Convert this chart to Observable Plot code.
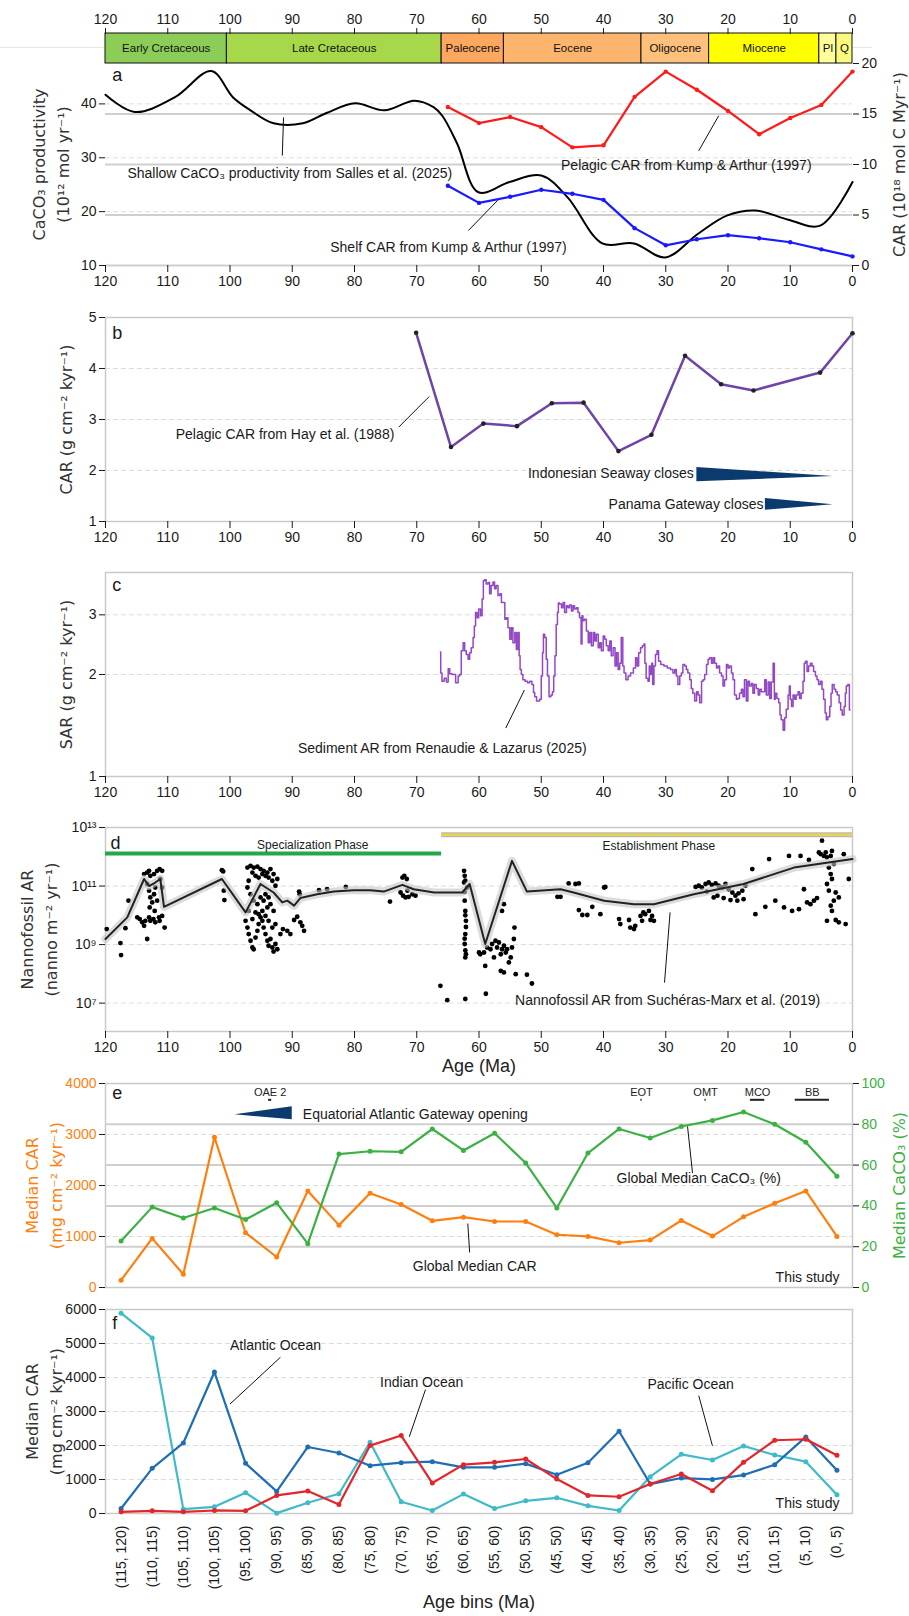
<!DOCTYPE html>
<html><head><meta charset="utf-8">
<script src="https://cdn.jsdelivr.net/npm/d3@7"></script>
<script src="https://cdn.jsdelivr.net/npm/@observablehq/plot@0.6"></script>
<style>
body{margin:0;background:#fff;}
#root{position:relative;width:909px;height:1616px;overflow:hidden;background:#fff;}
#root svg{position:absolute;left:0;overflow:visible;}
#hair{position:absolute;left:0;top:47px;width:872px;height:1px;background:#e6e6e6;}
</style></head>
<body><div id="root"><div id="hair"></div></div>
<script>
// ---------------- DATA ----------------
const ageTicks = [120,110,100,90,80,70,60,50,40,30,20,10,0];
const epochNames = ["Early Cretaceous","Late Cretaceous","Paleocene","Eocene","Oligocene","Miocene","Pl","Q"];
const epochStart = [120,100.5,66,56,33.9,23.03,5.33,2.58];
const epochEnd   = [100.5,66,56,33.9,23.03,5.33,2.58,0];
const epochColors = ["#8CCD57","#A6D84A","#FDA75F","#FDB46C","#FEC07A","#FFFF00","#FFFF99","#F9F97F"];

// panel a
const sallesAge = [120,115.3,108.9,103,99.5,96.7,93,88.3,84.5,79.9,75.2,70.4,67.3,65.9,63.5,60.1,55.1,50,45.8,40.2,35.1,30.1,24.8,20.1,15.5,10.3,5.2,0];
const sallesVal = [41.7,38.5,41.2,46.1,41.2,38.8,36.4,36.4,38.3,40.1,38.8,40.6,39.4,37.8,32.6,23.6,25.5,26.7,22.7,14.1,14.1,11.5,15.9,19.3,20.2,18.5,17.4,25.5];
const kumpAge = [65,60,55,50,45,40,35,30,25,20,15,10,5,0];
const pelagicKump = [15.7,14.1,14.7,13.7,11.7,11.9,16.7,19.2,17.4,15.3,13.0,14.6,15.9,19.2];
const shelfKump   = [7.9,6.2,6.8,7.5,7.1,6.5,3.7,2.0,2.6,3.0,2.7,2.3,1.6,0.9];

// panel b
const hayAge = [70.1,64.5,59.3,53.9,48.3,43.2,37.6,32.3,26.9,21.1,15.9,5.2,0];
const hayCAR = [4.70,2.46,2.92,2.87,3.32,3.33,2.38,2.70,4.25,3.69,3.57,3.92,4.69];

// panel c  [age, SAR]
const sarPts = [[66.2,2.33],[66.1,2.02],[65.8,1.91],[65.4,1.95],[65.1,1.90],[64.8,2.08],[64.6,2.01],[64.0,2.00],[63.5,1.89],[63.2,1.98],[63.0,2.00],[62.7,2.35],[62.4,2.48],[62.2,2.35],[61.9,2.29],[61.6,2.22],[61.4,2.32],[61.1,2.40],[60.8,2.57],[60.7,2.78],[60.4,3.05],[60.2,2.94],[59.9,3.12],[59.6,2.98],[59.4,3.34],[59.2,3.78],[59.0,3.81],[58.7,3.70],[58.4,3.74],[58.2,3.46],[57.9,3.66],[57.6,3.75],[57.4,3.58],[57.1,3.66],[56.8,3.42],[56.5,3.46],[56.3,3.26],[56.0,3.26],[55.7,2.91],[55.5,2.94],[55.2,2.75],[54.9,2.54],[54.7,2.75],[54.4,2.48],[54.1,2.66],[53.9,2.37],[53.6,2.66],[53.5,2.27],[53.3,2.07],[53.1,2.00],[52.8,1.93],[52.4,1.91],[52.0,1.89],[51.7,1.91],[51.3,1.87],[51.2,1.77],[50.9,1.72],[50.6,1.67],[50.4,1.67],[50.1,1.69],[49.9,1.98],[49.7,2.32],[49.6,2.63],[49.3,2.57],[49.1,2.22],[48.9,1.98],[48.6,1.72],[48.3,1.74],[48.1,1.78],[47.9,1.98],[47.7,2.27],[47.5,2.81],[47.3,3.05],[47.2,3.25],[46.9,3.23],[46.6,3.15],[46.4,3.26],[46.1,3.05],[45.8,3.19],[45.6,3.15],[45.3,3.21],[45.0,3.08],[44.8,3.19],[44.5,3.12],[44.2,3.15],[44.0,3.05],[43.7,2.94],[43.5,2.46],[43.4,2.98],[43.2,2.88],[42.9,2.91],[42.6,2.69],[42.3,2.48],[42.1,2.66],[41.8,2.43],[41.5,2.66],[41.3,2.51],[41.0,2.63],[40.7,2.40],[40.5,2.48],[40.2,2.35],[39.9,2.60],[39.7,2.54],[39.4,2.43],[39.1,2.35],[38.9,2.51],[38.6,2.27],[38.3,2.40],[38.0,2.12],[37.8,2.32],[37.5,2.07],[37.3,2.16],[37.0,2.57],[36.8,2.12],[36.6,2.02],[36.2,1.93],[35.9,1.98],
[35.4,2.02],[35.0,2.09],[34.7,2.24],[34.5,2.12],[34.2,2.32],[33.9,2.40],[33.6,2.43],[33.4,2.46],[33.3,2.16],[33.0,1.95],[32.7,1.91],[32.6,2.12],[32.3,2.00],[32.2,2.16],[32.0,1.87],[31.8,2.12],[31.5,2.29],[31.3,2.35],[31.0,2.19],[30.6,2.14],[30.0,2.12],[29.5,2.09],[29.0,2.07],[28.7,2.02],[28.4,2.07],[28.2,1.98],[27.9,1.87],[27.6,1.98],[27.4,2.02],[27.1,2.14],[26.8,2.12],[26.6,2.07],[26.3,2.02],[26.0,1.93],[25.8,1.82],[25.5,1.76],[25.2,1.67],[24.9,1.78],[24.7,1.74],[24.4,1.65],[24.1,1.91],[23.9,1.93],[23.6,2.00],[23.3,2.14],[23.1,2.22],[22.8,2.24],[22.5,2.16],[22.3,2.24],[22.0,2.16],[21.7,2.09],[21.5,2.12],[21.2,2.02],[20.9,1.98],[20.7,1.85],[20.4,1.93],[20.1,2.14],[19.9,2.09],[19.6,2.12],[19.3,2.02],[19.1,1.93],[18.8,1.74],[18.5,1.69],[18.3,1.70],[18.0,1.76],[17.7,1.81],[17.5,1.72],[17.2,1.93],[16.9,1.67],[16.7,1.91],[16.4,1.85],[16.1,1.88],[15.9,1.76],[15.6,1.87],[15.3,1.82],[15.0,1.74],[14.8,1.81],[14.5,1.78],[14.2,1.78],[14.0,1.93],[13.7,1.74],[13.4,1.90],[13.2,1.70],[12.9,1.90],[12.6,2.16],[12.5,1.69],[12.3,1.76],[12.0,1.70],[11.7,1.65],[11.6,1.52],[11.3,1.47],[11.0,1.37],[10.8,1.49],[10.5,1.58],[10.2,1.74],[10.1,1.85],[9.9,1.69],[9.7,1.61],[9.4,1.74],[9.2,1.69],[8.9,1.74],[8.6,1.78],[8.4,1.70],[8.1,1.76],[7.8,1.91],[7.7,2.16],[7.4,2.19],[7.2,2.04],[6.9,2.12],[6.6,2.16],[6.4,2.12],[6.1,2.04],[5.8,1.98],[5.6,1.93],[5.3,1.87],[5.0,1.91],[4.8,1.81],[4.5,1.69],[4.3,1.54],[4.1,1.47],[3.8,1.50],[3.5,1.61],[3.4,1.76],[3.1,1.87],[2.8,1.81],[2.6,1.78],[2.3,1.74],[2.0,1.65],[1.8,1.57],[1.5,1.52],[1.2,1.61],[1.1,1.76],[0.9,1.85],[0.6,1.87],[0.4,1.57]];

// panel d  [age, log10 AR]
const nannoPts = [[119.8,9.53],[117.6,9.05],[117.5,8.64],[116.8,9.56],[116.3,10.50],
[113.8,11.41],[113.3,11.46],[113.0,11.52],[112.8,11.35],[112.2,11.41],[111.7,11.52],[111.3,11.58],[110.9,11.52],
[113.3,11.07],[113.0,10.84],[112.8,10.61],[112.5,10.44],[112.2,10.72],[112.0,10.95],[112.9,10.27],[112.1,10.15],[111.7,10.50],[111.2,11.24],[110.9,10.95],
[114.9,9.93],[114.5,9.87],[114.1,9.76],[113.8,9.64],[113.6,9.81],[113.0,9.93],[112.8,9.81],[112.3,9.87],[112.0,9.76],[111.4,9.93],[110.9,9.98],[110.5,9.58],[111.3,9.81],[113.3,9.19],
[101.3,11.54],[101.1,11.50],[101.0,10.84],[100.9,10.52],
[97.2,11.63],[96.7,11.69],[96.2,11.63],[95.6,11.66],[95.1,11.58],[94.6,11.52],[94.0,11.46],[93.5,11.58],[93.0,11.41],[92.4,11.24],
[97.0,11.18],[96.4,11.46],[95.9,11.35],[95.4,11.29],[94.8,11.41],[94.3,11.35],[93.8,11.29],[93.2,11.18],[92.7,11.01],
[97.2,10.95],[96.7,10.72],[96.2,10.50],[95.6,10.38],[95.1,10.61],[94.6,10.50],[94.0,10.27],[93.5,10.38],[93.0,10.15],[94.3,10.72],[93.8,10.61],
[97.5,9.81],[97.2,9.58],[97.0,9.36],[96.7,9.13],[96.4,8.90],[96.2,8.84],[95.9,9.24],[95.6,9.47],[95.4,9.70],[95.1,9.93],[94.8,9.81],[94.6,9.58],[94.3,9.36],[94.0,9.13],[93.8,8.96],[93.5,9.19],[93.2,8.90],[93.0,8.76],[92.7,9.02],[92.4,8.84],[91.9,9.36],[91.5,9.53],[90.8,9.47],[90.3,9.36],
[95.9,10.10],[95.4,10.04],[94.8,10.15],[94.3,9.98],[93.8,9.81],[93.2,9.58],[92.7,9.70],[96.4,9.87],[97.0,10.15],
[89.7,9.84],[89.2,9.95],[88.7,9.76],[88.4,9.64],[88.1,9.47],[88.9,10.81],[88.8,10.72],
[85.7,10.86],[84.4,10.89],[81.4,10.97],[74.3,10.47],
[72.3,11.29],[72.0,11.35],[71.6,11.24],[72.6,10.78],[72.2,10.67],[71.8,10.61],[71.3,10.63],[70.7,10.72],[70.2,10.67],[71.5,10.84],
[62.4,11.52],[62.3,11.35],[62.2,11.18],[62.4,11.12],[62.3,10.80],[62.3,10.50],[62.2,10.15],[62.2,10.00],[62.1,9.81],[62.1,9.60],[62.2,9.36],[62.3,9.20],[62.3,9.02],[62.2,8.80],[62.1,8.67],[62.2,8.56],
[66.2,7.59],[65.1,7.10],[62.2,7.14],[60.0,8.73],
[61.9,10.95],[58.9,7.32],
[59.8,8.67],[59.2,8.73],[59.0,8.27],[58.7,8.90],[58.15,8.84],[57.9,9.02],[57.6,8.56],[57.35,9.13],[57.1,8.90],[56.8,9.07],[56.5,8.67],[56.3,8.84],[56.0,8.96],[55.7,8.73],[55.5,8.84],[55.2,8.39],[54.9,8.56],[54.7,8.90],[54.4,9.19],[54.3,9.58],[56.5,8.10],[56.0,8.05],[54.1,7.99],[52.3,7.97],[51.5,7.67],[56.3,10.15],[56.0,10.38],
[47.4,10.63],[46.9,10.63],[45.6,11.09],[44.5,11.07],[43.96,11.09],[39.9,10.95],[39.7,10.97],
[43.96,10.18],[43.4,10.01],[42.6,10.01],[41.8,10.29],[40.5,10.04],
[37.5,9.87],[37.3,9.70],[35.9,9.84],[35.7,9.58],[35.1,9.53],[34.9,9.64],[34.05,9.98],[33.6,10.10],[33.3,10.04],[32.7,10.15],[32.2,9.98],[31.9,9.81],[32.45,9.84],[33.8,9.81],
[25.2,10.97],[24.7,11.01],[24.2,10.95],[23.6,11.07],[23.1,11.12],[22.6,11.04],[22.0,11.09],[21.5,11.01],[20.9,10.95],[20.4,11.07],[19.9,10.89],[19.3,10.78],[18.8,10.67],[18.3,10.75],[17.7,10.84],[17.2,11.01],[23.4,10.81],[21.7,10.67],[20.7,10.59],[19.6,10.52],[18.5,10.50],[17.5,10.55],[22.3,10.61],
[16.1,11.58],[15.6,10.04],[14.0,10.29],[13.4,11.92],[12.4,10.50],[10.2,12.03],[11.0,10.27],[9.7,10.15],[8.6,10.21],[8.35,12.03],[7.8,10.89],[7.3,10.44],[7.0,11.89],[6.75,10.38],[6.2,10.50],[5.7,10.59],[5.4,12.15],[5.1,12.09],[4.9,12.55],[4.6,12.03],[4.3,12.15],[4.1,11.98],[3.5,12.03],[3.3,12.20],[3.0,11.75],[3.8,11.63],[3.5,11.41],[3.3,11.24],[4.1,11.07],[3.8,10.84],[2.7,10.78],[3.0,10.50],[3.5,10.33],[3.3,10.15],[4.1,9.81],[2.7,9.84],[2.2,9.76],[1.1,9.70],[1.4,12.09],[0.6,11.24],[2.2,10.61]];
const nannoTrendAge = [120,116.5,113.8,113.0,112.0,111.2,110.6,101.3,97.5,95.1,93.0,91.6,90.8,89.7,88.7,86.0,83.3,80.1,77.5,75.3,72.3,70.5,67.2,62.7,61.5,59.0,54.7,52.3,46.9,44.8,39.9,35.1,31.9,25.5,17.5,9.4,0];
const nannoTrendExp = [9.19,9.93,11.24,11.00,11.12,11.24,10.29,11.24,10.10,11.07,10.78,10.44,10.50,10.33,10.59,10.72,10.81,10.86,10.86,10.81,11.04,10.89,10.78,10.78,11.07,9.02,11.86,10.81,10.89,10.78,10.50,10.38,10.38,10.72,11.07,11.63,11.92];

// panels e & f
const ageBins = ["(115, 120)","(110, 115)","(105, 110)","(100, 105)","(95, 100)","(90, 95)","(85, 90)","(80, 85)","(75, 80)","(70, 75)","(65, 70)","(60, 65)","(55, 60)","(50, 55)","(45, 50)","(40, 45)","(35, 40)","(30, 35)","(25, 30)","(20, 25)","(15, 20)","(10, 15)","(5, 10)","(0, 5)"];
const medianCAR   = [143,963,260,2946,1073,598,1893,1223,1847,1626,1307,1379,1294,1294,1034,1002,878,930,1314,1008,1385,1652,1893,1002];
const medianCaCO3 = [22.8,39.4,34.1,39.0,33.3,41.5,21.5,65.4,66.8,66.5,77.7,67.2,75.6,61.0,39.0,65.9,77.7,73.3,78.9,81.9,86.0,80.0,71.2,54.5];
const atlanticCAR = [148,1328,2075,4161,1475,649,1957,1780,1407,1495,1525,1357,1357,1466,1141,1495,2420,866,1043,1003,1131,1436,2252,1269];
const indianCAR   = [49,79,49,89,79,531,659,266,1997,2292,895,1436,1505,1603,1013,531,492,866,1161,669,1505,2154,2184,1711];
const pacificCAR  = [5892,5164,128,197,610,10,315,580,2095,344,89,570,148,374,462,226,89,1082,1741,1574,1987,1721,1525,551];
const eventNames = ["OAE 2","EOT","OMT","MCO","BB"];
const eventStart = [93.8,34.0,23.7,16.4,9.2];
const eventEnd   = [93.3,33.8,23.5,14.1,3.7];

// ---------------- HELPERS ----------------
const W = 909, ML = 105, MR = 57;
const FONT = "'Liberation Sans', Arial, Helvetica, sans-serif";
const TFONT = "'DejaVu Sans', Verdana, sans-serif";
const root = document.getElementById("root");
const style = {fontFamily: FONT, fontSize: "14px", color: "#1a1a1a", background: "transparent", overflow: "visible"};
function mk(opts){ return Plot.plot(Object.assign({width: W, marginLeft: ML, marginRight: MR, style}, opts)); }
function add(svg, top){ svg.style.top = top + "px"; root.appendChild(svg); }
const GRID = "#dedede", FRAME = "#c9c9c9", SOLID = "#cfcfcf";
const fmt = d => String(d);
const sup = n => String(n).split("").map(c => "⁰¹²³⁴⁵⁶⁷⁸⁹"[+c]).join("");
function ytitle(text, dx, opts={}) { return Plot.text([text], Object.assign({frameAnchor: "left", textAnchor: "middle", rotate: -90, dx, fontSize: 16, fontFamily: TFONT, lineHeight: 1.5, fill: "#333"}, opts)); }
function ytitleR(text, dx, opts={}) { return Plot.text([text], Object.assign({frameAnchor: "right", textAnchor: "middle", rotate: -90, dx, fontSize: 16, fontFamily: TFONT, fill: "#333"}, opts)); }
function note(x, y, text, opts={}) { return Plot.text([{x, y}], Object.assign({x: "x", y: "y", text: () => text, fontSize: 14, fill: "#1a1a1a"}, opts)); }
function leader(x1, y1, x2, y2) { return Plot.link([{x1, y1, x2, y2}], {x1: "x1", y1: "y1", x2: "x2", y2: "y2", stroke: "#111", strokeWidth: 1}); }
function wedge(xWide, xTip, yLo, yHi, yTip) {
  return Plot.areaY([{x: xWide, y1: yLo, y2: yHi}, {x: xTip, y1: yTip, y2: yTip}], {x: "x", y1: "y1", y2: "y2", fill: "#0B3A6E"});
}

// ---------------- TIMESCALE ----------------
const epochs = epochNames.map((n, i) => ({name: n, start: epochStart[i], end: epochEnd[i], color: epochColors[i]}));
add(mk({height: 63, marginTop: 33, marginBottom: 0,
  x: {domain: [120, 0]}, y: {domain: [0, 1], axis: null}, color: {type: "identity"},
  marks: [
    Plot.rect(epochs, {x1: "start", x2: "end", y1: 0, y2: 1, fill: "color", stroke: "#111", strokeWidth: 1}),
    Plot.text(epochs, {x: d => (d.start + d.end) / 2, y: 0.5, text: "name", fontSize: 11.5, fill: "#111"}),
    Plot.axisX(ageTicks, {anchor: "top", tickSize: 6, tickPadding: 4, label: null, fontSize: 14})
  ]}), 0);

// ---------------- PANEL A ----------------
const aY = r => 10 + r * 1.875;   // right-axis (0..20) onto left scale (10..47.5)
const salles = sallesAge.map((a, i) => ({age: a, v: sallesVal[i]}));
const pel = kumpAge.map((a, i) => ({age: a, v: aY(pelagicKump[i])}));
const shelf = kumpAge.map((a, i) => ({age: a, v: aY(shelfKump[i])}));
add(mk({height: 255, marginTop: 13, marginBottom: 40,
  x: {domain: [120, 0]}, y: {domain: [10, 47.5]},
  marks: [
    Plot.ruleY([20, 30, 40], {stroke: GRID, strokeDasharray: "5,3"}),
    Plot.ruleY([0, 5, 10, 15].map(aY), {stroke: SOLID, strokeWidth: 2}),
    Plot.line(salles, {x: "age", y: "v", curve: "catmull-rom", stroke: "#000", strokeWidth: 2}),
    Plot.line(pel, {x: "age", y: "v", stroke: "#ff1a1a", strokeWidth: 2.2}),
    Plot.dot(pel, {x: "age", y: "v", r: 2.2, fill: "#ff1a1a"}),
    Plot.line(shelf, {x: "age", y: "v", stroke: "#1a1aff", strokeWidth: 2.2}),
    Plot.dot(shelf, {x: "age", y: "v", r: 2.2, fill: "#1a1aff"}),
    leader(91.6, 30.4, 91.4, 37.5),
    note(90.4, 27.1, "Shallow CaCO₃ productivity from Salles et al. (2025)"),
    leader(24.7, 31.3, 21.5, 37.8),
    note(26.7, 28.6, "Pelagic CAR from Kump & Arthur (1997)"),
    leader(61.7, 16.5, 57.0, 22.1),
    note(64.9, 13.3, "Shelf CAR from Kump & Arthur (1997)"),
    note(118.9, 45.3, "a", {fontSize: 18, textAnchor: "start"}),
    Plot.axisX(ageTicks, {tickSize: 7, tickPadding: 4, label: null}),
    Plot.axisY([10, 20, 30, 40], {anchor: "left", tickSize: 6, label: null, tickFormat: fmt}),
    Plot.axisY([0, 5, 10, 15, 20].map(aY), {anchor: "right", tickSize: 6, label: null, tickFormat: d => Math.round((d - 10) / 1.875)}),
    ytitle("CaCO₃ productivity\n(10¹² mol yr⁻¹)", -56),
    ytitleR("CAR (10¹⁸ mol C Myr⁻¹)", 47)
  ]}), 50);

// ---------------- PANEL B ----------------
const hay = hayAge.map((a, i) => ({age: a, v: hayCAR[i]}));
add(mk({height: 261, marginTop: 17, marginBottom: 40,
  x: {domain: [120, 0]}, y: {domain: [1, 5]},
  marks: [
    Plot.ruleY([2, 3, 4], {stroke: GRID, strokeDasharray: "5,3"}),
    Plot.frame({stroke: FRAME, strokeWidth: 1.5}),
    Plot.line(hay, {x: "age", y: "v", stroke: "#6E44A8", strokeWidth: 2.5}),
    Plot.dot(hay, {x: "age", y: "v", r: 2.3, fill: "#222"}),
    leader(72.9, 2.85, 68.0, 3.45),
    note(73.6, 2.71, "Pelagic CAR from Hay et al. (1988)", {textAnchor: "end"}),
    wedge(25.0, 3.1, 1.78, 2.06, 1.88),
    note(25.5, 1.95, "Indonesian Seaway closes", {textAnchor: "end"}),
    wedge(14.0, 3.1, 1.22, 1.45, 1.33),
    note(14.3, 1.33, "Panama Gateway closes", {textAnchor: "end"}),
    note(118.9, 4.69, "b", {fontSize: 18, textAnchor: "start"}),
    Plot.axisX(ageTicks, {tickSize: 7, tickPadding: 4, label: null}),
    Plot.axisY([1, 2, 3, 4, 5], {anchor: "left", tickSize: 6, label: null, tickFormat: fmt}),
    ytitle("CAR (g cm⁻² kyr⁻¹)", -41)
  ]}), 300);

// ---------------- PANEL C ----------------
const sar = sarPts.map(([a, v]) => ({age: a, v}));
add(mk({height: 261, marginTop: 17, marginBottom: 40,
  x: {domain: [120, 0]}, y: {type: "log", domain: [1, 4]},
  marks: [
    Plot.ruleY([2, 3], {stroke: GRID, strokeDasharray: "5,3"}),
    Plot.frame({stroke: FRAME, strokeWidth: 1.5}),
    Plot.line(sar, {x: "age", y: "v", curve: "step", stroke: "#9347C6", strokeWidth: 1.5}),
    leader(55.7, 1.39, 52.7, 1.80),
    note(65.9, 1.206, "Sediment AR from Renaudie & Lazarus (2025)"),
    note(118.9, 3.66, "c", {fontSize: 18, textAnchor: "start"}),
    Plot.axisX(ageTicks, {tickSize: 7, tickPadding: 4, label: null}),
    Plot.axisY([1, 2, 3], {anchor: "left", tickSize: 6, label: null, tickFormat: fmt}),
    ytitle("SAR (g cm⁻² kyr⁻¹)", -41)
  ]}), 555);

// ---------------- PANEL D ----------------
const nanno = nannoPts.map(([a, e]) => ({age: a, v: Math.pow(10, e)}));
const trend = nannoTrendAge.map((a, i) => ({age: a, v: Math.pow(10, nannoTrendExp[i])}));
const L = e => Math.pow(10, e);
add(mk({height: 281, marginTop: 17, marginBottom: 60,
  x: {domain: [120, 0]}, y: {type: "log", domain: [L(6.03), L(13)]},
  marks: [
    Plot.ruleY([L(7), L(9), L(11)], {stroke: GRID, strokeDasharray: "5,3"}),
    Plot.frame({stroke: FRAME, strokeWidth: 1.5}),
    Plot.ruleY([L(12.11)], {x1: 120, x2: 66, stroke: "#22A84A", strokeWidth: 4}),
    Plot.ruleY([L(12.75)], {x1: 66, x2: 0, stroke: "#b8b8b8", strokeWidth: 5}),
    Plot.ruleY([L(12.75)], {x1: 66, x2: 0, stroke: "#E9D44A", strokeWidth: 2.5}),
    note(86.7, L(12.40), "Specialization Phase", {fontSize: 12}),
    note(31.1, L(12.37), "Establishment Phase", {fontSize: 12}),
    Plot.dot(nanno, {x: "age", y: "v", r: 2.4, fill: "#000"}),
    Plot.line(trend, {x: "age", y: "v", stroke: "#c4c4c4", strokeWidth: 8, strokeOpacity: 0.6}),
    Plot.line(trend, {x: "age", y: "v", stroke: "#222", strokeWidth: 2}),
    leader(30.2, L(7.70), 29.3, L(10.10)),
    note(29.7, L(7.08), "Nannofossil AR from Suchéras-Marx et al. (2019)"),
    note(119.2, L(12.45), "d", {fontSize: 18, textAnchor: "start"}),
    Plot.axisX(ageTicks, {tickSize: 7, tickPadding: 4, label: null}),
    Plot.axisY([L(7), L(9), L(11), L(13)], {anchor: "left", tickSize: 6, label: null, tickFormat: d => "10" + sup(Math.round(Math.log10(d)))}),
    Plot.text(["Age (Ma)"], {frameAnchor: "bottom", dy: 40, fontSize: 18, fill: "#222"}),
    ytitle("Nannofossil AR\n(nanno m⁻² yr⁻¹)", -68)
  ]}), 810);

// ---------------- PANEL E ----------------
const binMid = ageBins.map(s => { const [a, b] = s.slice(1, -1).split(",").map(Number); return (a + b) / 2; });
const ORANGE = "#FF7F0E", GREEN = "#3BB143";
const eCar = binMid.map((m, i) => ({age: m, v: medianCAR[i]}));
const eCa = binMid.map((m, i) => ({age: m, v: medianCaCO3[i] * 40}));
const events = eventNames.map((n, i) => ({name: n, s: eventStart[i], e: eventEnd[i]}));
add(mk({height: 231, marginTop: 17, marginBottom: 10,
  x: {domain: [120, 0], axis: null}, y: {domain: [0, 4000]},
  marks: [
    Plot.ruleY([1000, 2000, 3000], {stroke: GRID, strokeDasharray: "5,3"}),
    Plot.ruleY([800, 1600, 2400, 3200], {stroke: SOLID, strokeWidth: 2}),
    Plot.frame({stroke: FRAME, strokeWidth: 1.5}),
    Plot.line(eCar, {x: "age", y: "v", stroke: ORANGE, strokeWidth: 2.2}),
    Plot.dot(eCar, {x: "age", y: "v", r: 2.5, fill: ORANGE}),
    Plot.line(eCa, {x: "age", y: "v", stroke: GREEN, strokeWidth: 2.2}),
    Plot.dot(eCa, {x: "age", y: "v", r: 2.5, fill: GREEN}),
    Plot.text(events, {x: d => (d.s + d.e) / 2, y: 3825, text: "name", fontSize: 11, fill: "#222"}),
    Plot.ruleY(events, {x1: "s", x2: "e", y: 3680, stroke: "#222", strokeWidth: 2}),
    wedge(90.0, 99.2, 3288, 3543, 3386),
    note(88.3, 3386, "Equatorial Atlantic Gateway opening", {textAnchor: "start"}),
    leader(25.7, 2245, 26.5, 3157),
    note(24.7, 2140, "Global Median CaCO₃ (%)"),
    leader(61.5, 686, 61.8, 1255),
    note(60.7, 412, "Global Median CAR"),
    note(2.1, 196, "This study", {textAnchor: "end"}),
    note(118.9, 3818, "e", {fontSize: 18, textAnchor: "start"}),
    Plot.axisY([0, 1000, 2000, 3000, 4000], {anchor: "left", tickSize: 6, label: null, fill: ORANGE, tickFormat: fmt}),
    Plot.axisY([0, 20, 40, 60, 80, 100].map(p => p * 40), {anchor: "right", tickSize: 6, label: null, fill: GREEN, tickFormat: d => String(d / 40)}),
    ytitle("Median CAR\n(mg cm⁻² kyr⁻¹)", -63, {fill: ORANGE}),
    ytitleR("Median CaCO₃ (%)", 47, {fill: GREEN})
  ]}), 1066);

// ---------------- PANEL F ----------------
const binLabel = new Map(binMid.map((m, i) => [m, ageBins[i]]));
const oceans = [["Atlantic", atlanticCAR, "#1F6EB5"], ["Indian", indianCAR, "#E2262B"], ["Pacific", pacificCAR, "#3FBAC8"]];
const fMarks = [
  Plot.ruleY([1000, 2000, 3000, 4000, 5000], {stroke: GRID, strokeDasharray: "5,3"}),
  Plot.frame({stroke: FRAME, strokeWidth: 1.5})
];
for (const [name, vals, col] of [oceans[2], oceans[0], oceans[1]]) {
  const d = binMid.map((m, i) => ({age: m, v: vals[i]}));
  fMarks.push(Plot.line(d, {x: "age", y: "v", stroke: col, strokeWidth: 2.2}));
  fMarks.push(Plot.dot(d, {x: "age", y: "v", r: 2.5, fill: col}));
}
fMarks.push(
  leader(91.9, 4594, 100.0, 3220),
  note(92.7, 4939, "Atlantic Ocean"),
  leader(68.6, 3642, 71.2, 2256),
  note(69.2, 3857, "Indian Ocean"),
  leader(24.7, 3465, 22.5, 1991),
  note(26.0, 3789, "Pacific Ocean"),
  note(2.1, 289, "This study", {textAnchor: "end"}),
  note(118.9, 5588, "f", {fontSize: 18, textAnchor: "start"}),
  Plot.axisX(binMid, {tickSize: 0, tickPadding: 12, tickRotate: -90, label: null, tickFormat: d => binLabel.get(d)}),
  Plot.axisY([0, 1000, 2000, 3000, 4000, 5000, 6000], {anchor: "left", tickSize: 6, label: null, tickFormat: fmt}),
  Plot.text(["Age bins (Ma)"], {frameAnchor: "bottom", dy: 94, fontSize: 18, fill: "#222"}),
  ytitle("Median CAR\n(mg cm⁻² kyr⁻¹)", -63)
);
add(mk({height: 322, marginTop: 17, marginBottom: 101,
  x: {domain: [120, 0]}, y: {domain: [0, 6000]},
  marks: fMarks}), 1292);
</script></body></html>
